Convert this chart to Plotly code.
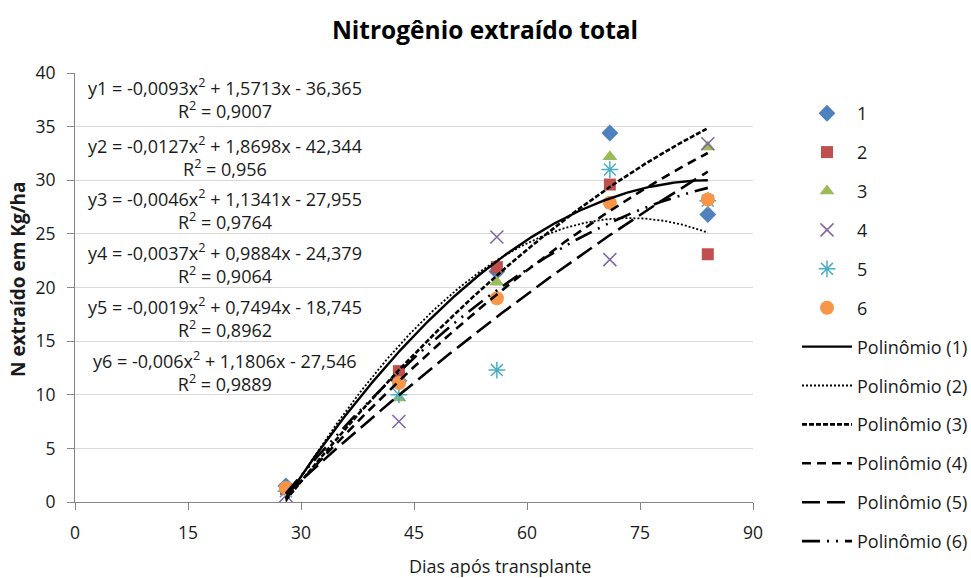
import numpy as np
import plotly.graph_objects as go

# ---- data ----
days = [28, 43, 56, 71, 84]
series_names = ["1", "2", "3", "4", "5", "6"]
s1 = [1.5, 11.3, 21.5, 34.4, 26.8]
s2 = [1.2, 12.2, 21.9, 29.6, 23.1]
s3 = [1.4, 9.7, 20.5, 32.2, 33.1]
s4 = [0.6, 7.5, 24.7, 22.6, 33.4]
s5 = [1.0, 10.0, 12.3, 31.0, 28.1]
s6 = [1.3, 11.1, 19.0, 27.9, 28.2]
series_values = [s1, s2, s3, s4, s5, s6]

# printed trend-line coefficients (a, b, c) for y = a x^2 + b x + c
coef_a = [-0.0093, -0.0127, -0.0046, -0.0037, -0.0019, -0.006]
coef_b = [1.5713, 1.8698, 1.1341, 0.9884, 0.7494, 1.1806]
coef_c = [-36.365, -42.344, -27.955, -24.379, -18.745, -27.546]
r2_vals = ["0,9007", "0,956", "0,9764", "0,9064", "0,8962", "0,9889"]
eq_texts = [
    "y1 = -0,0093x<sup>2</sup> + 1,5713x - 36,365",
    "y2 = -0,0127x<sup>2</sup> + 1,8698x - 42,344",
    "y3 = -0,0046x<sup>2</sup> + 1,1341x - 27,955",
    "y4 = -0,0037x<sup>2</sup> + 0,9884x - 24,379",
    "y5 = -0,0019x<sup>2</sup> + 0,7494x - 18,745",
    "y6 = -0,006x<sup>2</sup> + 1,1806x - 27,546",
]
trend_names = ["Polinômio (%d)" % i for i in range(1, 7)]
x_ticks = [0, 15, 30, 45, 60, 75, 90]
y_ticks = [0, 5, 10, 15, 20, 25, 30, 35, 40]

# ---- styles ----
colors = ["#4F81BD", "#C0504D", "#9BBB59", "#8064A2", "#4BACC6", "#F79646"]
symbols = ["diamond", "square", "triangle-up", "x-thin-open", "asterisk-open", "circle"]
sizes = [13, 12, 13, 13, 14, 14]
dashes = ["solid", "2px,2px", "5px,2px", "9px,6px", "18px,7px", "18px,7px,2px,7px,2px,7px"]
widths = [2.4, 1.8, 2.6, 2.6, 2.6, 2.6]
FONT = "Open Sans"
TXT = "#1a1a1a"

fig = go.Figure()
for i, (name, vals) in enumerate(zip(series_names, series_values)):
    open_sym = symbols[i].endswith("open")
    fig.add_trace(go.Scatter(
        x=days, y=vals, mode="markers", name=name, legendgroup="m%d" % i,
        marker=dict(symbol=symbols[i], size=sizes[i], color=colors[i],
                    line=dict(color=colors[i], width=1.5 if open_sym else 0)),
    ))

xs = np.linspace(days[0], days[-1], 200)
for i in range(6):
    ys = coef_a[i] * xs ** 2 + coef_b[i] * xs + coef_c[i]
    fig.add_trace(go.Scatter(
        x=xs, y=ys, mode="lines", name=trend_names[i], legendgroup="t%d" % i,
        line=dict(color="black", width=widths[i], dash=dashes[i]),
    ))

# equation annotations (pixel rows converted to data units)
eq_center_px = [98, 156, 209, 263, 317, 371]
def px_to_y(py):
    return (502 - py) / 429 * 40
for i in range(6):
    fig.add_annotation(x=19.9, y=px_to_y(eq_center_px[i]), xref="x", yref="y",
                       text=eq_texts[i] + "<br>R<sup>2</sup> = " + r2_vals[i],
                       showarrow=False, xanchor="center", yanchor="middle",
                       align="center", borderpad=0,
                       font=dict(family=FONT, size=18, color=TXT))

# axis titles as annotations
fig.add_annotation(x=(500 - 75) / 678, y=(502 - 566) / 429, xref="paper", yref="paper",
                   text="Dias após transplante", showarrow=False,
                   xanchor="center", yanchor="middle",
                   font=dict(family=FONT, size=18, color=TXT))
fig.add_annotation(x=(18 - 75) / 678, y=(502 - 280) / 429, xref="paper", yref="paper",
                   text="<b>N extraído em Kg/ha</b>", showarrow=False, textangle=-90,
                   xanchor="center", yanchor="middle",
                   font=dict(family=FONT, size=19, color=TXT))

fig.update_layout(
    width=971, height=578,
    margin=dict(l=75, r=218, t=73, b=76, autoexpand=False),
    paper_bgcolor="white", plot_bgcolor="white",
    font=dict(family=FONT, size=15, color=TXT),
    title=dict(text="<b>Nitrogênio extraído total</b>", x=485 / 971, xanchor="center",
               y=1 - 30 / 578, yanchor="middle",
               font=dict(family=FONT, size=24.5, color="black")),
    legend=dict(x=(797 - 75) / 678, xanchor="left", y=(502 - 95) / 429, yanchor="top",
                font=dict(family=FONT, size=18, color=TXT),
                tracegroupgap=12.5, itemwidth=50, maxheight=700,
                bgcolor="rgba(0,0,0,0)"),
    showlegend=True,
)
fig.update_xaxes(
    range=[0, 90], tickvals=x_ticks, ticks="outside", ticklen=7,
    tickcolor="#868686", showline=True, linecolor="#868686", linewidth=1.2,
    showgrid=False, zeroline=False, ticklabelstandoff=8,
    tickfont=dict(family=FONT, size=17.5, color=TXT),
)
fig.update_yaxes(
    range=[0, 40], tickvals=y_ticks, ticks="outside", ticklen=7,
    tickcolor="#868686", showline=True, linecolor="#868686", linewidth=1.2,
    showgrid=True, gridcolor="#D9D9D9", gridwidth=1, zeroline=False,
    ticklabelstandoff=8,
    tickfont=dict(family=FONT, size=17.5, color=TXT),
)

fig.write_html("out.html")
